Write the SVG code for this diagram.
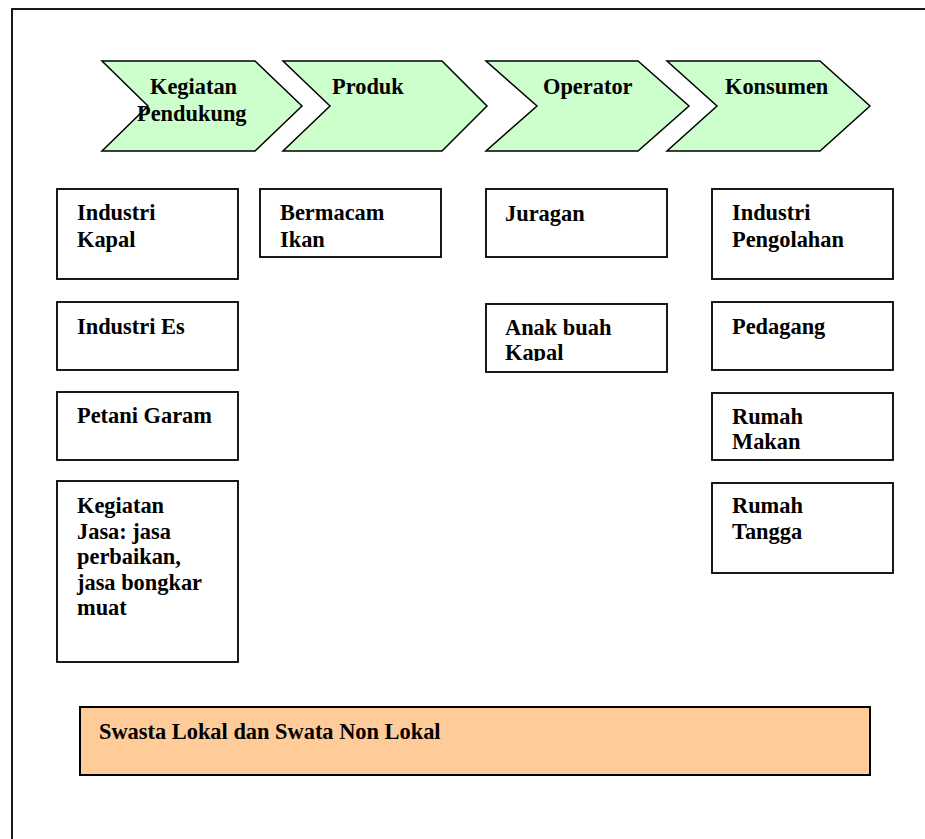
<svg xmlns="http://www.w3.org/2000/svg" width="925" height="839" viewBox="0 0 925 839">
<style>
text{font-family:"Liberation Serif","Times New Roman",serif;font-weight:bold;font-size:22.4px;fill:#000}
.chev{fill:#CCFFCC;stroke:#000;stroke-width:1.5}
.box{fill:#fff;stroke:#000;stroke-width:1.8}
.org{fill:#FFCC99;stroke:#000;stroke-width:2}
</style>
<defs>
<clipPath id="clipAnak"><rect x="486" y="304" width="181" height="57"/></clipPath>
</defs>
<rect x="12" y="9" width="930" height="845" fill="#fff" stroke="#000" stroke-width="1.8"/>
<g id="connectors"></g>
<g id="chev1"><polygon class="chev" points="102,61 255,61 302,106 255,151 102,151 148,106"/>
<text x="150" y="94">Kegiatan</text><text x="137" y="121">Pendukung</text></g>
<g id="chev2"><polygon class="chev" points="283,61 442,61 487,106 442,151 283,151 330,106"/>
<text x="332" y="94">Produk</text></g>
<g id="chev3"><polygon class="chev" points="486,61 638,61 689,106 638,151 486,151 537,106"/>
<text x="543" y="94">Operator</text></g>
<g id="chev4"><polygon class="chev" points="667,61 820,61 870,106 820,151 667,151 717,106"/>
<text x="725" y="94">Konsumen</text></g>
<g id="industriKapal"><rect class="box" x="57" y="189" width="181" height="90"/><text x="77" y="220">Industri</text><text x="77" y="247">Kapal</text></g>
<g id="industriEs"><rect class="box" x="57" y="302" width="181" height="68"/><text x="77" y="334">Industri Es</text></g>
<g id="petaniGaram"><rect class="box" x="57" y="392" width="181" height="68"/><text x="77" y="423">Petani Garam</text></g>
<g id="kegiatanJasa"><rect class="box" x="57" y="481" width="181" height="181"/>
<text x="77" y="513">Kegiatan</text><text x="77" y="538.5">Jasa: jasa</text><text x="77" y="564">perbaikan,</text><text x="77" y="589.5">jasa bongkar</text><text x="77" y="615">muat</text></g>
<g id="bermacamIkan"><rect class="box" x="260" y="189" width="181" height="68"/><text x="280" y="220">Bermacam</text><text x="280" y="247">Ikan</text></g>
<g id="juragan"><rect class="box" x="486" y="189" width="181" height="68"/><text x="505" y="221">Juragan</text></g>
<g id="anakBuah"><rect class="box" x="486" y="304" width="181" height="68"/><g clip-path="url(#clipAnak)"><text x="505" y="335">Anak buah</text><text x="505" y="360">Kapal</text></g></g>
<g id="industriPengolahan"><rect class="box" x="712" y="189" width="181" height="90"/><text x="732" y="220">Industri</text><text x="732" y="247">Pengolahan</text></g>
<g id="pedagang"><rect class="box" x="712" y="302" width="181" height="68"/><text x="732" y="334">Pedagang</text></g>
<g id="rumahMakan"><rect class="box" x="712" y="393" width="181" height="67"/><text x="732" y="424">Rumah</text><text x="732" y="449">Makan</text></g>
<g id="rumahTangga"><rect class="box" x="712" y="483" width="181" height="90"/><text x="732" y="513">Rumah</text><text x="732" y="539">Tangga</text></g>
<g id="swasta"><rect class="org" x="80" y="707" width="790" height="68"/><text x="99" y="739">Swasta Lokal dan Swata Non Lokal</text></g>
</svg>
